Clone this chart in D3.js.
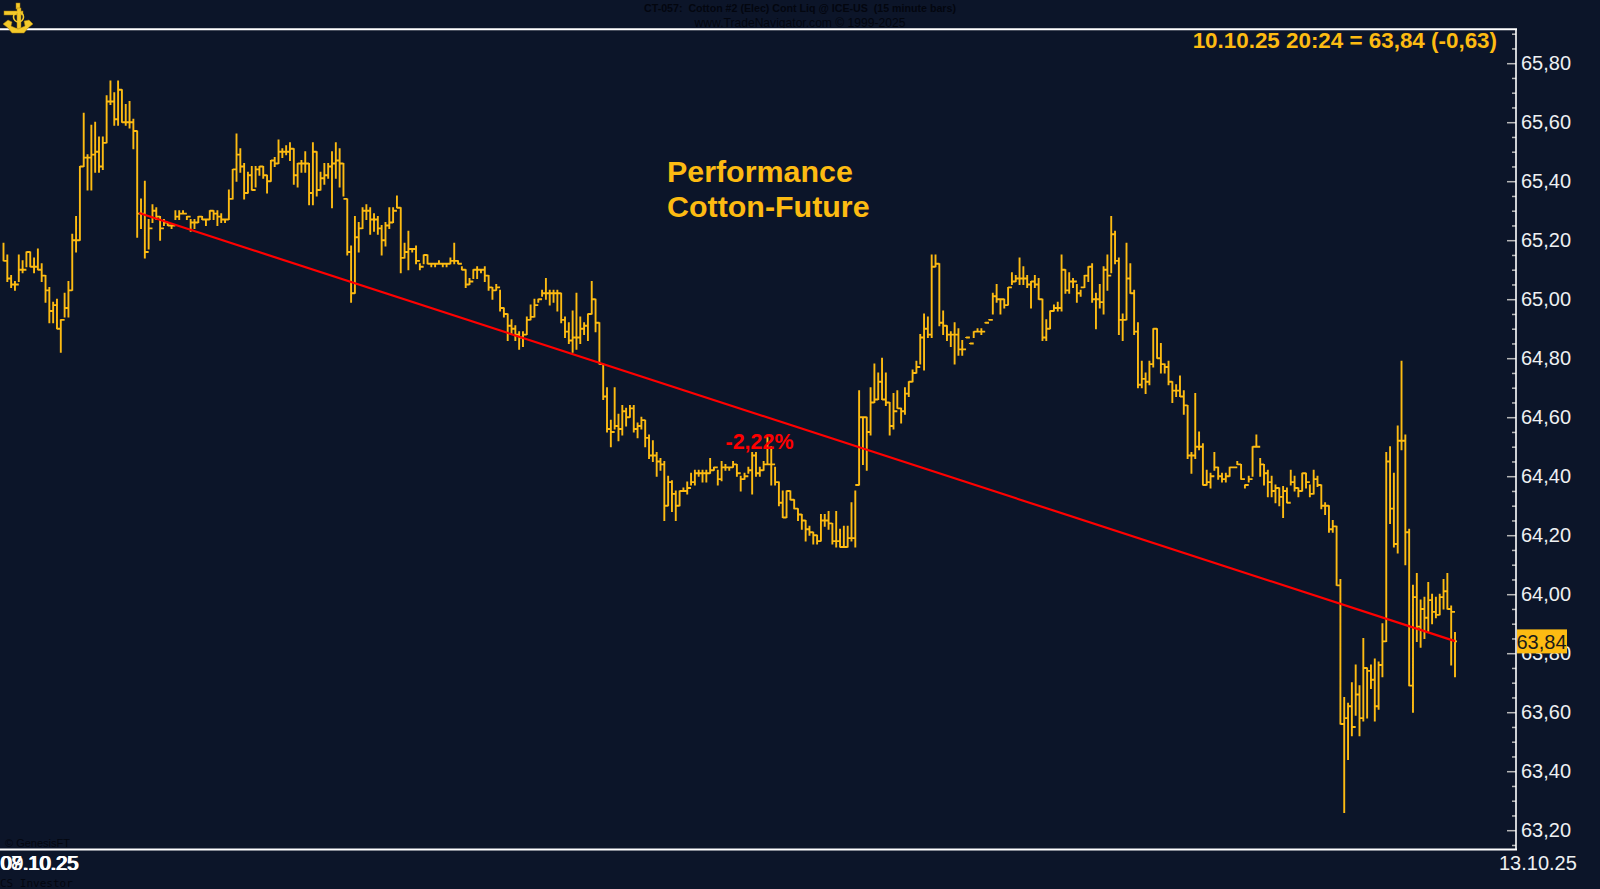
<!DOCTYPE html>
<html><head><meta charset="utf-8">
<script src="https://cdn.jsdelivr.net/npm/d3@7/dist/d3.min.js"></script>
<style>html,body{margin:0;padding:0;background:#0c1529;overflow:hidden}svg{display:block}text{font-family:"Liberation Sans",Arial,sans-serif}</style>
</head><body>
<svg id="c" width="1600" height="889"></svg>
<script>
const highs=[
65.19,65.15,65.08,65.06,65.15,65.13,65.16,65.16,65.14,65.17,
65.12,65.08,65.04,64.99,65.00,64.93,65.02,65.06,65.22,65.28,
65.45,65.63,65.49,65.59,65.60,65.55,65.55,65.69,65.74,65.70,
65.74,65.71,65.66,65.67,65.61,65.57,65.34,65.40,65.27,65.32,
65.31,65.28,65.27,65.26,65.25,65.30,65.30,65.30,65.28,65.27,
65.27,65.28,65.28,65.27,65.30,65.30,65.30,65.29,65.27,65.37,
65.44,65.56,65.51,65.46,65.43,65.45,65.45,65.45,65.45,65.42,
65.47,65.48,65.54,65.51,65.52,65.53,65.51,65.46,65.47,65.50,
65.46,65.53,65.50,65.43,65.46,65.46,65.50,65.53,65.51,65.46,
65.34,65.18,65.28,65.26,65.31,65.32,65.31,65.29,65.28,65.25,
65.26,65.31,65.31,65.35,65.31,65.19,65.23,65.17,65.18,65.12,
65.15,65.15,65.12,65.12,65.13,65.12,65.12,65.14,65.19,65.13,
65.11,65.10,65.07,65.10,65.11,65.10,65.11,65.08,65.04,65.05,
65.03,64.97,64.95,64.93,64.91,64.89,64.89,64.94,64.98,65.00,
65.00,65.03,65.07,65.03,65.03,65.03,65.02,64.94,64.92,64.96,
65.02,64.94,64.92,64.95,65.06,65.00,64.92,64.78,64.70,64.59,
64.70,64.61,64.64,64.63,64.64,64.64,64.58,64.60,64.59,64.54,
64.52,64.48,64.46,64.45,64.40,64.385,64.35,64.35,64.36,64.38,
64.41,64.42,64.42,64.42,64.42,64.46,64.43,64.42,64.45,64.44,
64.43,64.45,64.44,64.40,64.41,64.43,64.48,64.48,64.43,64.45,
64.53,64.50,64.43,64.38,64.35,64.35,64.35,64.32,64.29,64.27,
64.25,64.23,64.21,64.20,64.27,64.27,64.28,64.24,64.28,64.22,
64.23,64.23,64.31,64.35,64.69,64.60,64.60,64.70,64.78,64.75,
64.80,64.75,64.65,64.68,64.69,64.63,64.70,64.72,64.76,64.79,
64.88,64.95,64.94,65.15,65.15,65.12,64.96,64.91,64.89,64.92,
64.90,64.86,64.87,64.85,64.89,64.90,64.90,64.92,64.93,65.02,
65.05,65.00,65.00,65.04,65.09,65.08,65.14,65.11,65.08,65.06,
65.08,65.07,65.00,64.93,64.96,64.98,64.99,65.15,65.10,65.09,
65.07,65.05,65.03,65.08,65.11,65.12,65.02,65.05,65.11,65.15,
65.28,65.23,65.14,64.95,65.19,65.12,65.03,64.92,64.79,64.75,
64.79,64.90,64.90,64.85,64.78,64.79,64.72,64.71,64.74,64.69,
64.64,64.48,64.68,64.55,64.51,64.42,64.41,64.48,64.43,64.41,
64.41,64.43,64.43,64.45,64.44,64.37,64.40,64.50,64.54,64.46,
64.44,64.42,64.40,64.37,64.36,64.365,64.36,64.42,64.40,64.36,
64.41,64.41,64.37,64.42,64.40,64.37,64.31,64.30,64.25,64.23,
64.05,63.65,63.63,63.70,63.76,63.69,63.85,63.75,63.76,63.78,
63.77,63.90,64.48,64.50,64.41,64.57,64.79,64.54,64.22,64.03,
64.07,63.98,63.99,64.04,64.00,63.99,64.00,64.05,64.07,63.96,
63.87];
const lows=[
65.13,65.06,65.04,65.03,65.06,65.09,65.11,65.11,65.09,65.10,
65.06,64.99,64.92,64.92,64.90,64.82,64.94,64.94,65.03,65.16,
65.20,65.45,65.37,65.37,65.43,65.43,65.44,65.53,65.66,65.59,
65.59,65.60,65.59,65.58,65.51,65.21,65.24,65.14,65.17,65.26,
65.27,65.20,65.25,65.25,65.24,65.27,65.27,65.29,65.27,65.23,
65.24,65.26,65.27,65.25,65.27,65.27,65.25,65.26,65.26,65.27,
65.34,65.40,65.43,65.34,65.36,65.37,65.38,65.42,65.41,65.36,
65.40,65.45,65.46,65.48,65.49,65.47,65.39,65.38,65.43,65.43,
65.32,65.32,65.35,65.37,65.39,65.41,65.31,65.41,65.38,65.35,
65.15,64.99,65.02,65.16,65.24,65.27,65.22,65.23,65.22,65.15,
65.18,65.24,65.26,65.31,65.09,65.14,65.10,65.16,65.12,65.10,
65.12,65.12,65.11,65.11,65.12,65.11,65.11,65.12,65.12,65.12,
65.10,65.04,65.05,65.07,65.07,65.09,65.06,65.03,65.00,65.03,
64.96,64.94,64.86,64.88,64.86,64.83,64.84,64.88,64.93,64.94,
64.99,65.01,65.00,64.98,64.99,64.96,64.92,64.87,64.85,64.82,
64.83,64.85,64.88,64.86,64.95,64.89,64.78,64.66,64.55,64.50,
64.56,64.52,64.54,64.57,64.60,64.55,64.53,64.56,64.50,64.46,
64.45,64.40,64.42,64.25,64.30,64.28,64.25,64.30,64.35,64.34,
64.37,64.37,64.40,64.38,64.38,64.41,64.42,64.37,64.385,64.42,
64.42,64.43,64.40,64.35,64.39,64.41,64.34,64.40,64.40,64.42,
64.44,64.37,64.37,64.30,64.26,64.26,64.32,64.29,64.25,64.22,
64.18,64.20,64.17,64.17,64.18,64.23,64.22,64.17,64.16,64.16,
64.16,64.16,64.18,64.16,64.37,64.44,64.42,64.54,64.65,64.66,
64.66,64.64,64.54,64.56,64.63,64.58,64.61,64.67,64.72,64.75,
64.78,64.76,64.87,64.87,65.11,64.91,64.88,64.86,64.84,64.78,
64.81,64.81,64.87,64.85,64.87,64.89,64.88,64.92,64.93,64.95,
64.99,64.95,64.97,64.98,65.05,65.06,65.05,65.05,65.04,64.97,
65.04,65.00,64.86,64.86,64.90,64.96,64.96,64.96,65.02,65.02,
65.04,64.99,65.01,65.04,65.06,64.99,64.90,64.97,64.95,65.03,
65.09,65.12,64.88,64.86,64.93,65.02,64.88,64.70,64.70,64.68,
64.71,64.77,64.80,64.75,64.75,64.71,64.65,64.67,64.67,64.61,
64.46,64.41,64.46,64.49,64.37,64.37,64.36,64.42,64.39,64.38,
64.38,64.40,64.43,64.44,64.39,64.36,64.38,64.40,64.50,64.40,
64.37,64.33,64.33,64.31,64.30,64.26,64.31,64.37,64.35,64.33,
64.35,64.36,64.33,64.34,64.365,64.29,64.27,64.21,64.21,64.03,
63.56,63.26,63.44,63.52,63.59,63.52,63.57,63.58,63.68,63.57,
63.61,63.72,63.84,64.24,64.16,64.14,64.49,64.10,63.69,63.60,
63.84,63.82,63.85,63.87,63.90,63.92,63.93,63.95,63.95,63.76,
63.72];
const closes=[
65.13,65.07,65.05,65.05,65.10,65.10,65.16,65.11,65.11,65.10,
65.08,65.03,64.96,64.98,64.90,64.93,64.97,65.03,65.20,65.20,
65.45,65.48,65.48,65.49,65.50,65.45,65.53,65.67,65.67,65.61,
65.71,65.60,65.60,65.60,65.57,65.29,65.29,65.16,65.24,65.30,
65.28,65.24,65.26,65.25,65.25,65.28,65.29,65.29,65.28,65.26,
65.26,65.28,65.27,65.27,65.30,65.29,65.28,65.27,65.27,65.34,
65.44,65.49,65.45,65.36,65.42,65.37,65.44,65.45,65.42,65.40,
65.47,65.46,65.50,65.50,65.50,65.51,65.42,65.46,65.46,65.46,
65.36,65.50,65.37,65.41,65.42,65.45,65.46,65.47,65.46,65.34,
65.16,65.02,65.21,65.24,65.30,65.30,65.27,65.27,65.24,65.20,
65.25,65.26,65.30,65.31,65.14,65.16,65.17,65.17,65.13,65.11,
65.15,65.12,65.12,65.12,65.12,65.12,65.12,65.13,65.13,65.12,
65.10,65.05,65.06,65.10,65.10,65.10,65.08,65.04,65.03,65.04,
64.97,64.95,64.91,64.90,64.88,64.87,64.88,64.93,64.94,64.98,
65.00,65.02,65.02,65.02,65.02,65.02,64.93,64.89,64.86,64.87,
64.87,64.90,64.91,64.95,65.00,64.92,64.78,64.67,64.56,64.55,
64.57,64.56,64.62,64.60,64.63,64.56,64.57,64.59,64.53,64.47,
64.47,64.45,64.44,64.30,64.38,64.34,64.30,64.35,64.35,64.36,
64.38,64.41,64.41,64.41,64.41,64.42,64.43,64.39,64.43,64.43,
64.43,64.44,64.41,64.39,64.40,64.42,64.47,64.41,64.42,64.44,
64.44,64.44,64.38,64.31,64.26,64.35,64.32,64.29,64.27,64.25,
64.22,64.21,64.20,64.18,64.25,64.25,64.24,64.18,64.18,64.16,
64.16,64.19,64.19,64.37,64.60,64.60,64.55,64.65,64.66,64.72,
64.66,64.65,64.57,64.62,64.63,64.62,64.68,64.72,64.75,64.77,
64.87,64.90,64.88,65.11,65.12,64.92,64.91,64.88,64.88,64.88,
64.83,64.83,64.87,64.85,64.89,64.89,64.89,64.92,64.93,65.01,
65.00,65.00,64.98,65.04,65.06,65.07,65.07,65.07,65.05,65.06,
65.05,65.00,64.87,64.90,64.96,64.97,64.97,65.10,65.03,65.06,
65.06,65.02,65.04,65.08,65.11,65.00,65.00,64.99,65.10,65.08,
65.22,65.13,64.93,64.93,65.07,65.02,64.89,64.71,64.73,64.72,
64.78,64.90,64.80,64.78,64.77,64.72,64.69,64.69,64.67,64.64,
64.47,64.47,64.50,64.50,64.37,64.38,64.40,64.43,64.40,64.39,
64.40,64.43,64.43,64.44,64.39,64.37,64.39,64.50,64.50,64.44,
64.41,64.38,64.35,64.36,64.33,64.35,64.31,64.38,64.36,64.35,
64.41,64.38,64.34,64.39,64.37,64.30,64.30,64.22,64.23,64.03,
63.56,63.58,63.62,63.55,63.66,63.58,63.75,63.74,63.71,63.62,
63.76,63.84,64.45,64.29,64.17,64.52,64.52,64.21,63.69,63.99,
63.89,63.95,63.92,63.98,63.94,63.93,63.99,64.01,63.95,63.94,
63.84];
const trendIdx=[35.5,380];
const trendPrice=[65.292,63.841];
const majorTicks=[63.2,63.4,63.6,63.8,64,64.2,64.4,64.6,64.8,65,65.2,65.4,65.6,65.8];
const minorTicks=[63.15,63.25,63.3,63.35,63.45,63.5,63.55,63.65,63.7,63.75,63.85,63.9,63.95,64.05,64.1,64.15,64.25,64.3,64.35,64.45,64.5,64.55,64.65,64.7,64.75,64.85,64.9,64.95,65.05,65.1,65.15,65.25,65.3,65.35,65.45,65.5,65.55,65.65,65.7,65.75,65.85,65.9];
const lastPrice=63.84;

const W=1600,H=889,BG="#0c1529",GOLD="#fdbb12",RED="#ff0000",DARK="#03060f";
const svg=d3.select("#c");
svg.append("rect").attr("width",W).attr("height",H).attr("fill",BG);
const x=d3.scaleLinear().domain([0,highs.length-1]).range([3.5,1455]);
const y=d3.scaleLinear().domain([63.2,65.8]).range([830.2,63.2]);
const fmt=v=>d3.format(".2f")(v).replace(".",",");

// header (dark on dark, as in the reference)
svg.append("text").attr("x",800).attr("y",12).attr("text-anchor","middle").attr("font-size",10.65).attr("font-weight","bold").attr("fill",DARK).attr("xml:space","preserve").text("CT-057:  Cotton #2 (Elec) Cont Liq @ ICE-US  (15 minute bars)");
svg.append("text").attr("x",800).attr("y",27).attr("text-anchor","middle").attr("font-size",12.1).attr("fill",DARK).text("www.TradeNavigator.com © 1999-2025");
svg.append("text").attr("x",5).attr("y",847).attr("font-size",11).attr("fill",DARK).text("© GenesisFT");
svg.append("text").attr("x",0).attr("y",887).attr("font-size",11).attr("style","font-family:'DejaVu Sans Mono',monospace").attr("fill",DARK).text("CS Investor");

// bars
const path=d3.path();
highs.forEach((h,i)=>{
  const px=x(i);
  path.moveTo(px,y(h)-0.5); path.lineTo(px,y(lows[i])+0.5);
  if(i>0){path.moveTo(px-2,y(closes[i-1])); path.lineTo(px,y(closes[i-1]));}
  path.moveTo(px,y(closes[i])); path.lineTo(px+2,y(closes[i]));
});
svg.append("path").attr("d",path.toString()).attr("fill","none").attr("stroke",GOLD).attr("stroke-width",1.9);

// trend line
svg.append("line").attr("x1",x(trendIdx[0])).attr("y1",y(trendPrice[0])).attr("x2",x(trendIdx[1])).attr("y2",y(trendPrice[1])).attr("stroke",RED).attr("stroke-width",2.2);

// frame
svg.append("line").attr("x1",0).attr("x2",1517).attr("y1",29.3).attr("y2",29.3).attr("stroke","#fff").attr("stroke-width",2);
svg.append("line").attr("x1",0).attr("x2",1517).attr("y1",849.5).attr("y2",849.5).attr("stroke","#fff").attr("stroke-width",2);

// y axis
const axMinor=svg.append("g").attr("transform","translate(1516,0)").call(d3.axisRight(y).tickValues(minorTicks).tickSize(-4).tickFormat(""));
const axMajor=svg.append("g").attr("transform","translate(1516,0)").call(d3.axisRight(y).tickValues(majorTicks).tickSize(-9).tickPadding(5).tickFormat(fmt));
[axMinor,axMajor].forEach(g=>{g.select(".domain").remove();g.selectAll("line").attr("stroke","#b8b8b8").attr("stroke-width",1.5);});
axMajor.selectAll("text").attr("font-size",20).attr("fill","#eef0f2").attr("font-family","'Liberation Sans',Arial,sans-serif");
svg.append("line").attr("x1",1516).attr("x2",1516).attr("y1",29).attr("y2",850).attr("stroke","#fff").attr("stroke-width",1.6);

// last price box
svg.append("rect").attr("x",1517).attr("y",y(lastPrice)-12).attr("width",50).attr("height",24).attr("fill",GOLD);
svg.append("text").attr("x",1516.5).attr("y",y(lastPrice)+7.5).attr("font-size",20).attr("fill","#1a1a1a").text(fmt(lastPrice));

// annotations
svg.append("text").attr("x",1497).attr("y",48).attr("text-anchor","end").attr("font-size",22.4).attr("font-weight","bold").attr("fill",GOLD).text("10.10.25 20:24 = 63,84 (-0,63)");
svg.append("text").attr("x",667).attr("y",182).attr("font-size",30.4).attr("font-weight","bold").attr("fill",GOLD).text("Performance");
svg.append("text").attr("x",667).attr("y",217).attr("font-size",30.4).attr("font-weight","bold").attr("fill",GOLD).text("Cotton-Future");
svg.append("text").attr("x",725.5).attr("y",449).attr("font-size",21.5).attr("font-weight","bold").attr("fill",RED).text("-2,22%");

// date labels
["07.10.25","08.10.25","09.10.25"].forEach((t,i)=>svg.append("text").attr("x",[0,0,1.5][i]).attr("y",870).attr("font-size",20).attr("fill","#fff").text(t));
svg.append("text").attr("x",1499).attr("y",870).attr("font-size",20).attr("fill","#eef0f2").text("13.10.25");

// logo
const logo=svg.append("g").attr("fill","#f4c92a").attr("stroke","#a87c0a").attr("stroke-width",0.5);
logo.append("rect").attr("x",16).attr("y",3).attr("width",4).attr("height",6);
logo.append("rect").attr("x",4).attr("y",11).attr("width",19).attr("height",4);
logo.append("rect").attr("x",17).attr("y",8).attr("width",4).attr("height",22);
logo.append("circle").attr("cx",18.5).attr("cy",17).attr("r",5).attr("fill","none").attr("stroke","#f4c92a").attr("stroke-width",1.6);
logo.append("path").attr("d","M3 24 L8 20 L12 22 L11 26 L18 29 L25 26 L24 21 L29 20 L33 24 L28 28 L24 33 L12 33 L8 28 Z");
</script>
</body></html>
